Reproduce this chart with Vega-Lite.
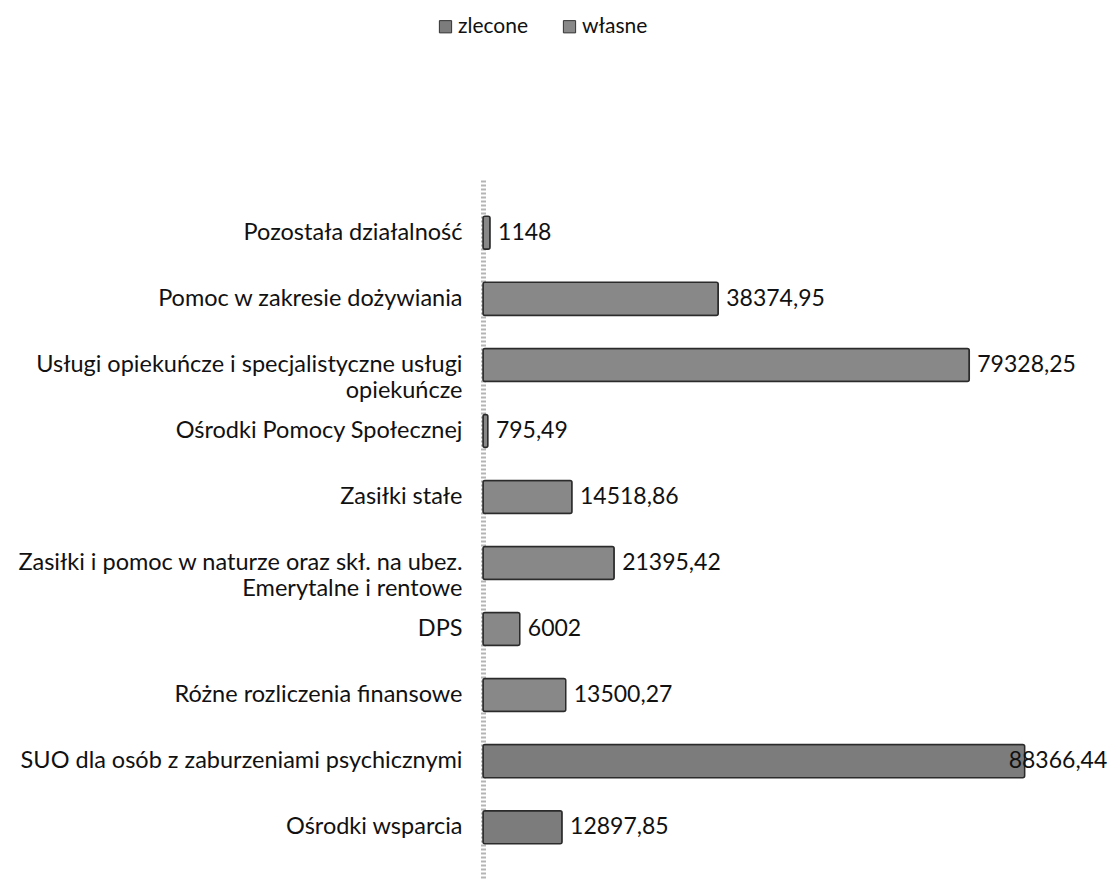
{
  "$schema": "https://vega.github.io/schema/vega-lite/v6.json",
  "autosize": "none",
  "width": 613,
  "height": 700,
  "padding": {"left": 483, "top": 180, "right": 11, "bottom": 8},
  "background": "white",
  "config": {
    "font": "Lato",
    "view": {"stroke": null},
    "locale": {"number": {"decimal": ",", "thousands": "", "grouping": [3], "currency": ["", ""]}}
  },
  "data": {
    "values": [
      {"kategoria": "Pozostała działalność", "rodzaj": "własne", "kwota": 1148},
      {"kategoria": "Pomoc w zakresie dożywiania", "rodzaj": "własne", "kwota": 38374.95},
      {"kategoria": "Usługi opiekuńcze i specjalistyczne usługi|opiekuńcze", "rodzaj": "własne", "kwota": 79328.25},
      {"kategoria": "Ośrodki Pomocy Społecznej", "rodzaj": "własne", "kwota": 795.49},
      {"kategoria": "Zasiłki stałe", "rodzaj": "własne", "kwota": 14518.86},
      {"kategoria": "Zasiłki i pomoc w naturze oraz skł. na ubez.|Emerytalne i rentowe", "rodzaj": "własne", "kwota": 21395.42},
      {"kategoria": "DPS", "rodzaj": "własne", "kwota": 6002},
      {"kategoria": "Różne rozliczenia finansowe", "rodzaj": "własne", "kwota": 13500.27},
      {"kategoria": "SUO  dla osób z zaburzeniami psychicznymi", "rodzaj": "zlecone", "kwota": 88366.44},
      {"kategoria": "Ośrodki wsparcia", "rodzaj": "zlecone", "kwota": 12897.85}
    ]
  },
  "encoding": {
    "y": {
      "field": "kategoria",
      "type": "nominal",
      "sort": null,
      "scale": {"paddingInner": 0.5, "paddingOuter": 0.55},
      "axis": {
        "title": null,
        "ticks": false,
        "labelExpr": "split(datum.label, '|')",
        "labelFontSize": 23.5,
        "labelColor": "#111",
        "labelPadding": 21,
        "labelLineHeight": 26,
        "labelLimit": 600,
        "domainColor": "#b5b5b5",
        "domainWidth": 5,
        "domainDash": [2, 2],
        "offset": 0
      }
    },
    "x": {
      "field": "kwota",
      "type": "quantitative",
      "scale": {"domain": [0, 100000]},
      "axis": null
    }
  },
  "layer": [
    {
      "mark": {"type": "bar", "stroke": "#2b2b2b", "strokeWidth": 1.5, "cornerRadius": 2},
      "encoding": {
        "color": {
          "field": "rodzaj",
          "type": "nominal",
          "scale": {"domain": ["zlecone", "własne"], "range": ["#7c7c7c", "#888888"]},
          "legend": {
            "title": null,
            "orient": "none",
            "legendX": -48,
            "legendY": -164,
            "direction": "horizontal",
            "symbolType": "square",
            "symbolSize": 150,
            "symbolStrokeColor": "#333",
            "symbolStrokeWidth": 1,
            "labelFontSize": 21,
            "labelColor": "#111",
            "columnPadding": 30,
            "labelOffset": 2
          }
        }
      }
    },
    {
      "mark": {"type": "text", "align": "left", "baseline": "middle", "dx": {"expr": "datum.kwota > 85000 ? -16 : 8"}, "fontSize": 23, "color": "#111"},
      "encoding": {
        "text": {"field": "kwota", "type": "quantitative", "format": ".2~f"}
      }
    }
  ]
}
